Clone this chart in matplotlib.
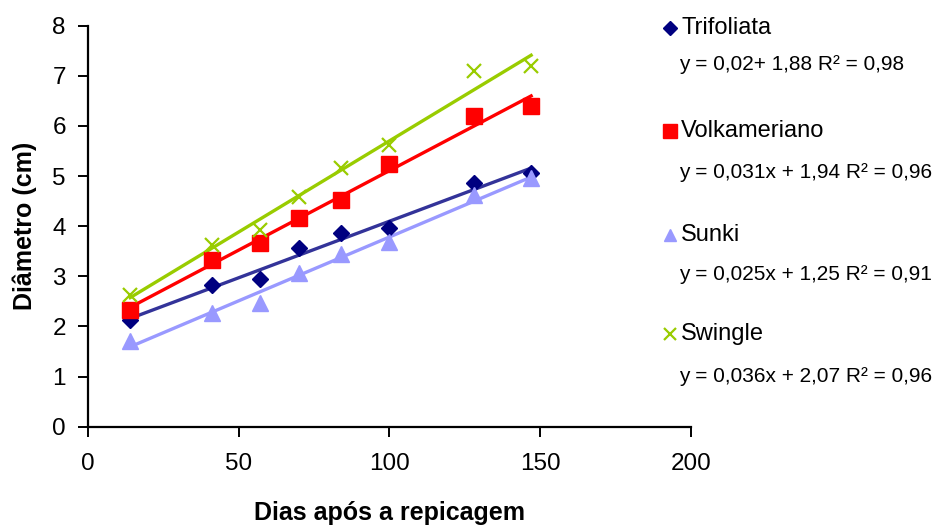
import numpy as np
import matplotlib
matplotlib.use("Agg")
import matplotlib.pyplot as plt
from matplotlib.lines import Line2D

plt.rcParams['font.family'] = ['Liberation Sans', 'DejaVu Sans']

dias = [14, 41, 57, 70, 84, 100, 128, 147]
trifoliata = [2.13, 2.83, 2.94, 3.56, 3.86, 3.97, 4.86, 5.06]
volkameriano = [2.33, 3.33, 3.66, 4.16, 4.52, 5.24, 6.19, 6.40]
sunki = [1.72, 2.26, 2.47, 3.07, 3.44, 3.69, 4.62, 4.96]
swingle = [2.63, 3.63, 3.93, 4.59, 5.16, 5.62, 7.09, 7.19]

series_names = ["Trifoliata", "Volkameriano", "Sunki", "Swingle"]
equations = ["y = 0,02+ 1,88 R² = 0,98",
             "y = 0,031x + 1,94 R² = 0,96",
             "y = 0,025x + 1,25 R² = 0,91",
             "y = 0,036x + 2,07 R² = 0,96"]
xticks = [0, 50, 100, 150, 200]
yticks = [0, 1, 2, 3, 4, 5, 6, 7, 8]

styles = [
    dict(marker='D', color='#000080', ms=8.5, line='#333399', mew=1, lms=7),
    dict(marker='s', color='#FF0000', ms=11, line='#FF0000', mew=1, lms=9.5),
    dict(marker='^', color='#9999FF', ms=11, line='#9999FF', mew=1, lms=8.5),
    dict(marker='x', color='#99CC00', ms=10, line='#99CC00', mew=1.6, lms=8.5),
]

fig = plt.figure(figsize=(9.4, 5.25), dpi=100)
ax = fig.add_axes([0.0936, 0.1872, 0.735 - 0.0936, 0.951 - 0.1872])

data = [trifoliata, volkameriano, sunki, swingle]
x = np.array(dias, dtype=float)
for vals, st in zip(data, styles):
    y = np.array(vals)
    m, b = np.polyfit(x, y, 1)
    xs = np.array([x.min(), x.max()])
    ax.plot(xs, m * xs + b, color=st['line'], lw=2.4, zorder=2)
    ax.plot(x, y, linestyle='none', marker=st['marker'], color=st['color'],
            ms=st['ms'], mew=st['mew'], zorder=3, clip_on=False)

ax.set_xlim(0, 200)
ax.set_ylim(0, 8)
ax.set_xticks(xticks)
ax.set_yticks(yticks)
ax.tick_params(direction='out', length=7, width=1.4, labelsize=17.5)
ax.tick_params(axis='y', pad=9)
ax.tick_params(axis='x', pad=12)
ax.spines['top'].set_visible(False)
ax.spines['right'].set_visible(False)
for s in ['left', 'bottom']:
    ax.spines[s].set_linewidth(1.6)
ax.set_xlabel("Dias após a repicagem", fontsize=18, fontweight='bold', labelpad=19)
ax.set_ylabel("Diâmetro (cm)", fontsize=18, fontweight='bold', labelpad=11)

# legend block
name_y = [28, 131, 235, 334]
eq_y = [64, 173, 274, 376]
W, H = 940, 525
for name, eq, ny, ey, st in zip(series_names, equations, name_y, eq_y, styles):
    fig.add_artist(Line2D([670 / W], [1 - ny / H], transform=fig.transFigure,
                          marker=st['marker'], color=st['color'], linestyle='none',
                          ms=st['lms'], mew=st['mew']))
    fig.text(681 / W, 1 - ny / H, name, fontsize=17, va='center', ha='left')
    fig.text(679 / W, 1 - ey / H, eq, fontsize=15, va='center', ha='left')

fig.savefig("out.png", dpi=100)
